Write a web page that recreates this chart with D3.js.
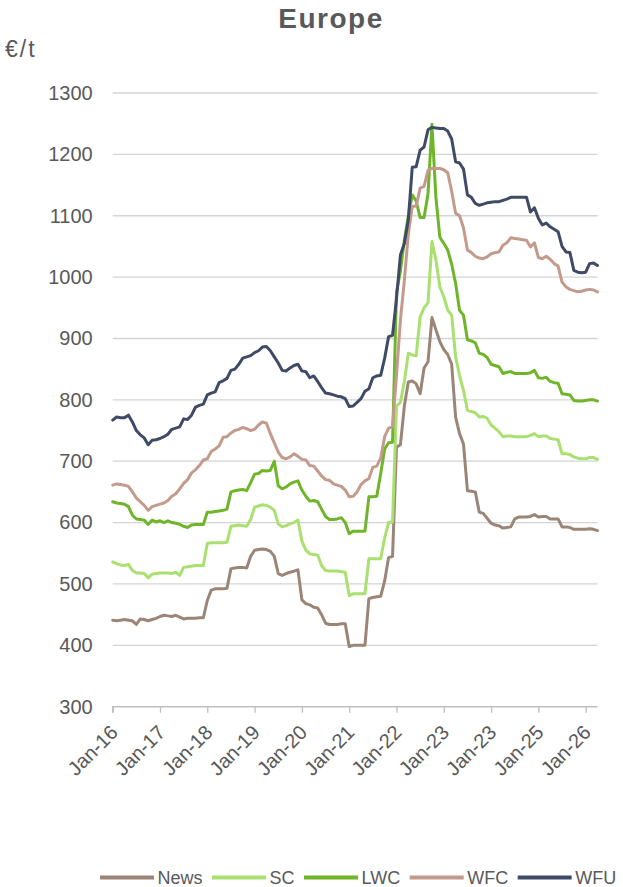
<!DOCTYPE html>
<html><head><meta charset="utf-8">
<script src="https://cdn.jsdelivr.net/npm/d3@7"></script>
<style>
body{margin:0;background:#fff}
svg{display:block}
text{font-family:"Liberation Sans",Arial,sans-serif;fill:#595959}
</style>
</head><body>
<svg id="chart" width="623" height="887"></svg>
<script>
// ---- data ----
const seriesNames = ["News","SC","LWC","WFC","WFU"];
const seriesColors = ["#9b8576","#a9e070","#6fb52a","#c39a8b","#3e4a66"];
const tickLabels = ["Jan-16","Jan-17","Jan-18","Jan-19","Jan-20","Jan-21","Jan-22","Jan-23","Jan-23","Jan-25","Jan-26"];
const yTicks = [300,400,500,600,700,800,900,1000,1100,1200,1300];

const News = [
 441,440,441,442,441,440,434,443,442,440,442,444,
 447,449,448,447,449,446,443,444,444,444,445,445,
 473,490,492,492,492,493,525,526,527,527,526,545,
 555,556,557,556,553,545,517,514,517,519,521,523,
 474,468,466,462,461,450,436,434,434,434,435,435,
 398,400,400,400,400,476,478,479,480,505,543,545,
 723,727,790,829,831,826,810,852,862,934,914,895,
 882,874,858,772,745,728,652,651,650,617,615,607,
 599,596,595,591,592,593,606,609,609,609,610,613,
 609,610,610,606,606,606,593,593,592,589,589,589,
 589,590,589,587];
const SC = [
 536,533,531,530,532,522,518,518,517,510,516,517,
 518,518,518,517,519,514,527,528,529,530,530,530,
 566,567,567,567,567,568,594,595,596,595,594,605,
 625,627,629,628,625,620,598,593,595,598,600,604,
 570,555,549,548,547,530,522,521,521,521,520,519,
 481,484,484,484,484,541,541,541,541,575,600,601,
 790,796,830,876,873,872,935,950,958,1058,1028,984,
 968,946,938,870,840,815,783,781,779,772,773,770,
 759,754,748,740,741,741,740,740,740,740,742,745,
 740,741,741,737,736,735,712,712,711,707,705,704,
 704,706,706,703];
const LWC = [
 634,632,631,630,626,612,606,605,604,597,604,601,
 603,600,603,600,599,597,594,592,596,597,597,597,
 617,617,618,619,620,622,650,652,653,654,652,665,
 679,680,685,684,685,700,660,655,658,663,666,668,
 653,643,635,636,634,622,610,605,605,606,608,600,
 582,586,586,586,586,642,642,643,680,720,730,731,
 975,1010,1060,1100,1134,1124,1097,1097,1136,1249,1130,1065,
 1055,1044,1021,990,946,938,898,896,893,876,874,869,
 858,856,854,843,845,846,843,843,843,843,844,848,
 836,835,837,830,828,827,810,809,808,799,798,798,
 799,800,800,798];
const WFC = [
 661,663,662,661,659,650,640,634,628,620,626,628,
 630,632,636,643,647,655,664,670,681,686,693,702,
 704,716,720,725,739,740,746,750,752,755,753,750,
 752,759,764,762,745,730,715,706,704,707,712,708,
 703,702,693,692,684,676,670,669,663,661,659,653,
 642,643,650,662,668,672,690,692,705,740,754,756,
 840,930,995,1070,1115,1116,1145,1148,1174,1177,1177,1177,
 1175,1170,1140,1104,1100,1080,1044,1040,1034,1031,1030,1033,
 1038,1040,1041,1052,1056,1064,1063,1062,1061,1060,1049,1056,
 1032,1030,1034,1029,1022,1018,992,984,980,978,976,977,
 979,980,979,976];
const WFU = [
 767,772,771,771,775,764,750,743,738,727,734,735,
 737,740,744,752,754,756,769,768,775,788,791,793,
 808,811,813,828,831,835,848,850,858,868,870,872,
 877,880,886,887,880,870,860,848,847,852,856,858,
 847,846,836,839,830,820,811,810,808,806,805,802,
 789,790,796,802,814,818,836,839,840,868,903,905,
 965,1036,1055,1093,1179,1180,1207,1212,1240,1244,1243,1242,
 1242,1238,1225,1188,1186,1176,1134,1130,1120,1117,1119,1121,
 1122,1123,1123,1125,1127,1130,1130,1130,1130,1130,1106,1113,
 1096,1085,1088,1082,1078,1074,1050,1041,1040,1011,1008,1007,
 1008,1022,1023,1019];
const seriesValues = [News, SC, LWC, WFC, WFU];

// month categories Jan-2016 ... Apr-2026
const categories = [];
for (let i = 0; i < News.length; i++) {
  const yr = 2016 + Math.floor(i / 12), mo = i % 12 + 1;
  categories.push(yr + "-" + String(mo).padStart(2, "0"));
}

// ---- layout ----
const svg = d3.select("#chart");
const plotL = 112.7, plotR = 597.5, plotT = 93, plotB = 706.7;

const x = d3.scalePoint().domain(categories).range([plotL, plotR]);
const y = d3.scaleLinear().domain([300, 1300]).range([plotB, plotT]);

// title
svg.append("text").attr("x", 331).attr("y", 27.5).attr("text-anchor", "middle")
  .style("font-size", "28px").style("font-weight", "bold").style("letter-spacing", "1.5px")
  .text("Europe");
svg.append("text").attr("x", 5).attr("y", 56.5)
  .style("font-size", "23px").style("letter-spacing", "2px").text("€/t");

// gridlines
svg.append("g").selectAll("line").data(yTicks.slice(1)).join("line")
  .attr("x1", plotL).attr("x2", plotR)
  .attr("y1", d => y(d)).attr("y2", d => y(d))
  .attr("stroke", "#d4d4d4").attr("stroke-width", 1.3);

// y axis labels
const yAxis = svg.append("g").attr("transform", `translate(${plotL},0)`)
  .call(d3.axisLeft(y).tickValues(yTicks).tickSize(0).tickPadding(20).tickFormat(d3.format("d")));
yAxis.select(".domain").remove();
yAxis.selectAll("text").style("font-size", "20px").attr("fill", "#595959");

// x axis
const tickCats = categories.filter((d, i) => i % 12 === 0);
const xAxis = svg.append("g").attr("transform", `translate(0,${plotB})`)
  .call(d3.axisBottom(x).tickValues(tickCats).tickSize(6).tickFormat((d, i) => tickLabels[i]));
xAxis.select(".domain").attr("stroke", "#bfbfbf").attr("stroke-width", 1.5)
  .attr("d", `M${plotL},6V0H${plotR}`);
xAxis.selectAll(".tick line").attr("stroke", "#bfbfbf").attr("stroke-width", 1.3);
xAxis.selectAll("text")
  .attr("y", 0).attr("dy", 0).attr("text-anchor", "end")
  .attr("transform", "translate(6,27) rotate(-45)")
  .style("font-size", "20px").attr("fill", "#595959");

// lines
const line = d3.line().x((d, i) => x(categories[i])).y(d => y(d)).curve(d3.curveLinear);
svg.append("g").selectAll("path").data(seriesValues).join("path")
  .attr("d", d => line(d))
  .attr("fill", "none")
  .attr("stroke", (d, i) => seriesColors[i])
  .attr("stroke-width", 3)
  .attr("stroke-linejoin", "round")
  .attr("stroke-linecap", "round");

// legend
const lg = svg.append("g");
let lx = 100;
seriesNames.forEach((n, i) => {
  lg.append("line").attr("x1", lx).attr("x2", lx + 54).attr("y1", 877.5).attr("y2", 877.5)
    .attr("stroke", seriesColors[i]).attr("stroke-width", 4);
  const t = lg.append("text").attr("x", lx + 57.5).attr("y", 883.5)
    .style("font-size", "18px").text(n);
  lx += 57.5 + t.node().getComputedTextLength() + 9.5;
});
</script>
</body></html>
